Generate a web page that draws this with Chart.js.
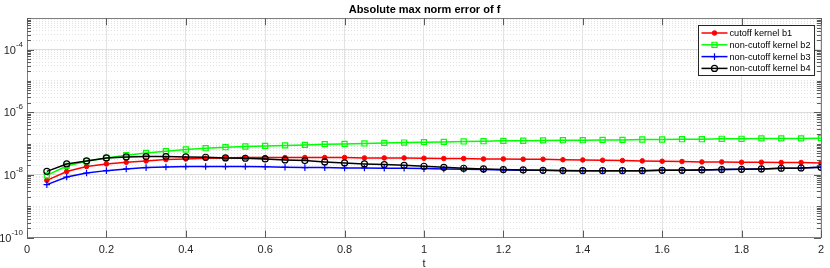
<!DOCTYPE html>
<html>
<head>
<meta charset="utf-8">
<script src="https://cdn.jsdelivr.net/npm/chart.js@4.4.0/dist/chart.umd.min.js"></script>
<style>
    html, body { margin: 0; padding: 0; background: #fff; }
    #wrap { width: 830px; height: 268px; }
</style>
</head>
<body>
<div id="wrap"><canvas id="errChart"></canvas></div>
<script>
// Data
const tValues = [0.05, 0.1, 0.15, 0.2, 0.25, 0.3, 0.35, 0.4, 0.45, 0.5,
    0.55, 0.6, 0.65, 0.7, 0.75, 0.8, 0.85, 0.9, 0.95, 1.0,
    1.05, 1.1, 1.15, 1.2, 1.25, 1.3, 1.35, 1.4, 1.45, 1.5,
    1.55, 1.6, 1.65, 1.7, 1.75, 1.8, 1.85, 1.9, 1.95, 2.0];

const cutoffB1 = [6.7e-9, 1.28e-8, 1.85e-8, 2.24e-8, 2.53e-8, 2.79e-8, 3.09e-8, 3.23e-8, 3.4e-8, 3.48e-8,
    3.58e-8, 3.58e-8, 3.58e-8, 3.58e-8, 3.58e-8, 3.58e-8, 3.48e-8, 3.48e-8, 3.48e-8, 3.4e-8,
    3.33e-8, 3.33e-8, 3.23e-8, 3.23e-8, 3.16e-8, 3.16e-8, 3.05e-8, 3.0e-8, 2.94e-8, 2.87e-8,
    2.8e-8, 2.73e-8, 2.67e-8, 2.59e-8, 2.59e-8, 2.53e-8, 2.53e-8, 2.48e-8, 2.48e-8, 2.41e-8];

const nonCutoffB2 = [9.7e-9, 1.93e-8, 2.73e-8, 3.48e-8, 4.25e-8, 5.03e-8, 5.7e-8, 6.47e-8, 7.12e-8, 7.67e-8,
    8.07e-8, 8.44e-8, 8.75e-8, 9.08e-8, 9.57e-8, 9.77e-8, 1.01e-7, 1.05e-7, 1.08e-7, 1.11e-7,
    1.13e-7, 1.17e-7, 1.19e-7, 1.22e-7, 1.23e-7, 1.26e-7, 1.28e-7, 1.28e-7, 1.31e-7, 1.31e-7,
    1.35e-7, 1.35e-7, 1.38e-7, 1.38e-7, 1.42e-7, 1.42e-7, 1.46e-7, 1.46e-7, 1.46e-7, 1.49e-7];

const nonCutoffB3 = [4.89e-9, 8.57e-9, 1.15e-8, 1.37e-8, 1.55e-8, 1.71e-8, 1.79e-8, 1.85e-8, 1.85e-8, 1.85e-8,
    1.85e-8, 1.82e-8, 1.75e-8, 1.71e-8, 1.71e-8, 1.66e-8, 1.66e-8, 1.63e-8, 1.63e-8, 1.59e-8,
    1.55e-8, 1.51e-8, 1.48e-8, 1.44e-8, 1.4e-8, 1.4e-8, 1.37e-8, 1.37e-8, 1.37e-8, 1.37e-8,
    1.37e-8, 1.4e-8, 1.4e-8, 1.44e-8, 1.48e-8, 1.51e-8, 1.55e-8, 1.63e-8, 1.66e-8, 1.75e-8];

const nonCutoffB4 = [1.3e-8, 2.24e-8, 2.79e-8, 3.48e-8, 3.75e-8, 3.86e-8, 3.86e-8, 3.75e-8, 3.66e-8, 3.48e-8,
    3.4e-8, 3.23e-8, 3.0e-8, 2.87e-8, 2.59e-8, 2.41e-8, 2.24e-8, 2.14e-8, 2.03e-8, 1.89e-8,
    1.75e-8, 1.63e-8, 1.55e-8, 1.48e-8, 1.44e-8, 1.4e-8, 1.38e-8, 1.37e-8, 1.37e-8, 1.37e-8,
    1.37e-8, 1.4e-8, 1.4e-8, 1.44e-8, 1.48e-8, 1.51e-8, 1.55e-8, 1.63e-8, 1.66e-8, 1.75e-8];

const seriesLabels = ['cutoff kernel b1', 'non-cutoff kernel b2', 'non-cutoff kernel b3', 'non-cutoff kernel b4'];

// Axis ticks
const xTicks = [0, 0.2, 0.4, 0.6, 0.8, 1, 1.2, 1.4, 1.6, 1.8, 2];
const yMajorTicks = [1e-10, 1e-8, 1e-6, 1e-4];
const yTickExponents = ['-10', '-8', '-6', '-4'];
const yMin = 1e-10;
const yMax = 1e-3;

const FONT = '"Liberation Sans", Arial, Helvetica, sans-serif';

// minor grid positions: 1..9 x 10^k inside the range
const yGridValues = [];
for (let e = -10; e < -3; e++) {
    for (let m = 1; m <= 9; m++) yGridValues.push(m * Math.pow(10, e));
}
yGridValues.push(yMax);

function isMajor(v) {
    return yMajorTicks.some(m => Math.abs(Math.log10(v) - Math.log10(m)) < 1e-6);
}

function toPoints(arr) {
    return tValues.map((t, i) => ({ x: t, y: arr[i] }));
}

const datasets = [
    { label: seriesLabels[0], data: toPoints(cutoffB1), borderColor: '#ff0000', backgroundColor: '#ff0000',
      pointStyle: 'circle', pointRadius: 2.3, pointBorderWidth: 1, order: 4 },
    { label: seriesLabels[1], data: toPoints(nonCutoffB2), borderColor: '#00ff00', backgroundColor: 'rgba(0,0,0,0)',
      pointStyle: 'rect', pointRadius: 3.6, pointBorderWidth: 1.2, order: 3 },
    { label: seriesLabels[2], data: toPoints(nonCutoffB3), borderColor: '#0000ff', backgroundColor: 'rgba(0,0,0,0)',
      pointStyle: 'cross', pointRadius: 3.3, pointBorderWidth: 1.2, order: 2 },
    { label: seriesLabels[3], data: toPoints(nonCutoffB4), borderColor: '#000000', backgroundColor: 'rgba(0,0,0,0)',
      pointStyle: 'circle', pointRadius: 3, pointBorderWidth: 1.2, order: 1 }
];
datasets.forEach(d => {
    d.borderWidth = 1.5;
    d.pointBorderColor = d.borderColor;
    d.pointBackgroundColor = d.backgroundColor;
    d.tension = 0;
    d.fill = false;
});

// MATLAB-like box, inner ticks, y labels and legend
const matlabAxes = {
    id: 'matlabAxes',
    afterDraw(chart) {
        const ctx = chart.ctx;
        const area = chart.chartArea;
        const xs = chart.scales.x;
        const ys = chart.scales.y;
        ctx.save();

        // box
        ctx.strokeStyle = '#7f7f7f';
        ctx.lineWidth = 1;
        ctx.strokeRect(Math.round(area.left) + 0.5, Math.round(area.top) + 0.5,
            Math.round(area.right - area.left), Math.round(area.bottom - area.top));

        // inner ticks
        ctx.strokeStyle = '#5a5a5a';
        ctx.beginPath();
        xTicks.forEach(v => {
            const px = Math.round(xs.getPixelForValue(v)) + 0.5;
            ctx.moveTo(px, area.bottom); ctx.lineTo(px, area.bottom - 7);
            ctx.moveTo(px, area.top); ctx.lineTo(px, area.top + 7);
        });
        yGridValues.forEach(v => {
            const py = Math.round(ys.getPixelForValue(v)) + 0.5;
            const len = isMajor(v) ? 7 : 4;
            ctx.moveTo(area.left, py); ctx.lineTo(area.left + len, py);
            ctx.moveTo(area.right, py); ctx.lineTo(area.right - len, py);
        });
        ctx.stroke();

        // y tick labels 10^k
        ctx.fillStyle = '#262626';
        ctx.textBaseline = 'middle';
        yMajorTicks.forEach((v, i) => {
            const py = ys.getPixelForValue(v);
            ctx.font = '8px ' + FONT;
            const expW = ctx.measureText(yTickExponents[i]).width;
            const right = area.left - 4;
            ctx.textAlign = 'left';
            ctx.fillText(yTickExponents[i], right - expW, py - 5);
            ctx.font = '11px ' + FONT;
            ctx.textAlign = 'right';
            ctx.fillText('10', right - expW, py + 1);
        });

        // legend
        ctx.font = '9.2px ' + FONT;
        const maxW = Math.max(...seriesLabels.map(s => ctx.measureText(s).width));
        const boxW = 31 + maxW + 4;
        const boxH = 50;
        const boxL = Math.round(area.right - 7 - boxW) + 0.5;
        const boxT = Math.round(area.top + 7) + 0.5;
        ctx.fillStyle = '#ffffff';
        ctx.fillRect(boxL, boxT, boxW, boxH);
        ctx.strokeStyle = '#262626';
        ctx.lineWidth = 1;
        ctx.strokeRect(boxL, boxT, boxW, boxH);
        datasets.forEach((d, i) => {
            const cy = boxT + 7.5 + i * 11.8;
            ctx.strokeStyle = d.borderColor;
            ctx.lineWidth = 1.5;
            ctx.beginPath();
            ctx.moveTo(boxL + 3, cy); ctx.lineTo(boxL + 29, cy);
            ctx.stroke();
            ctx.fillStyle = d.backgroundColor;
            ctx.lineWidth = d.pointBorderWidth;
            Chart.helpers.drawPoint(ctx, { pointStyle: d.pointStyle, radius: d.pointRadius, rotation: 0, borderWidth: d.pointBorderWidth }, boxL + 16, cy);
            ctx.fillStyle = '#000000';
            ctx.textAlign = 'left';
            ctx.textBaseline = 'middle';
            ctx.fillText(d.label, boxL + 31, cy + 0.5);
        });

        ctx.restore();
    }
};

new Chart(document.getElementById('errChart'), {
    type: 'line',
    data: { datasets: datasets },
    plugins: [matlabAxes],
    options: {
        responsive: true,
        maintainAspectRatio: false,
        animation: false,
        layout: { padding: { left: 27, right: 8, top: 0, bottom: -4 } },
        plugins: {
            legend: { display: false },
            tooltip: { enabled: false },
            title: {
                display: true,
                text: 'Absolute max norm error of f',
                color: '#000000',
                font: { family: FONT, size: 11, weight: 'bold' },
                padding: { top: 3, bottom: 2 }
            }
        },
        scales: {
            x: {
                type: 'linear',
                min: 0,
                max: 2,
                afterBuildTicks: scale => { scale.ticks = xTicks.map(v => ({ value: v })); },
                ticks: {
                    color: '#262626',
                    font: { family: FONT, size: 11 },
                    padding: 6,
                    maxRotation: 0,
                    callback: v => String(Number(v.toFixed(1)))
                },
                grid: { color: '#e3e3e3', lineWidth: 1, drawTicks: false },
                border: { display: false },
                title: {
                    display: true,
                    text: 't',
                    color: '#262626',
                    font: { family: FONT, size: 11 },
                    padding: { top: -5, bottom: 1 }
                }
            },
            y: {
                type: 'logarithmic',
                min: yMin,
                max: yMax,
                afterBuildTicks: scale => { scale.ticks = yGridValues.map(v => ({ value: v })); },
                ticks: { display: false },
                grid: {
                    drawTicks: false,
                    color: ctx => (ctx.tick && isMajor(ctx.tick.value)) ? '#dcdcdc' : '#e2e2e2',
                    lineWidth: 1
                },
                border: {
                    display: false,
                    dash: ctx => (ctx.tick && !isMajor(ctx.tick.value)) ? [1, 2] : []
                }
            }
        }
    }
});
</script>
</body>
</html>
